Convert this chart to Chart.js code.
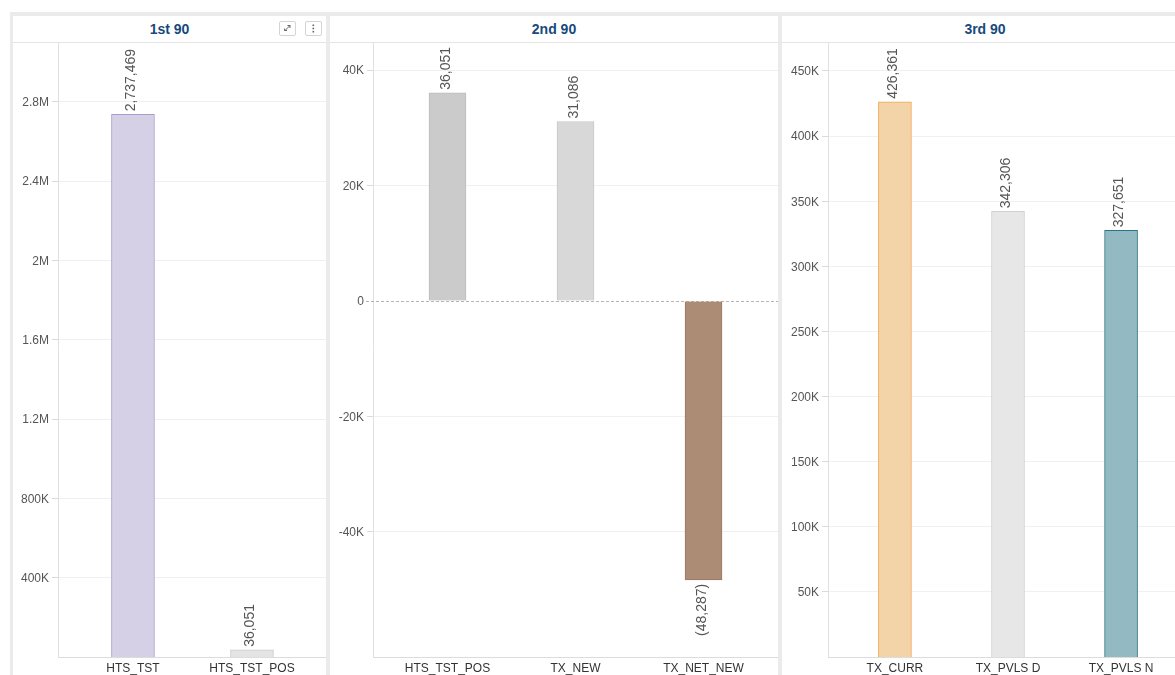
<!DOCTYPE html>
<html>
<head>
<meta charset="utf-8">
<title>90-90-90 indicators</title>
<script src="https://cdn.jsdelivr.net/npm/chart.js@4/dist/chart.umd.min.js"></script>
<style>
  html, body { margin: 0; padding: 0; background: #fff; width: 1175px; height: 675px; overflow: hidden;
               font-family: "Liberation Sans", Arial, sans-serif; }
  #board { position: absolute; left: 10px; top: 12px; width: 1200px; height: 700px; background: #ebebeb; }
  .panel { position: absolute; top: 4px; height: 700px; background: #fff; }
  .head { position: relative; height: 26px; border-bottom: 1px solid #e4e4e4; text-align: center;
          font-weight: bold; font-size: 14px; line-height: 26px; color: #174a7c; }
  .panel canvas { position: absolute; left: 0; top: 27px; }
  .btn { position: absolute; top: 5px; width: 15px; height: 13px; border: 1px solid #d4d4d4; border-radius: 2px;
         background: #fff; line-height: 0; }
  .btn svg { display: block; }
</style>
</head>
<body>
<div id="board">
  <div class="panel" style="left:3px;width:313px">
    <div class="head">1st 90
      <span class="btn" style="left:266px">
        <svg width="15" height="13" viewBox="0 0 15 13">
          <g stroke="#666" stroke-width="1" fill="none">
            <path d="M5 8.5 L10 3.5"/>
            <path d="M7.5 3.5 H10 V6"/>
            <path d="M4.5 6.5 V8.5 H7"/>
          </g>
        </svg>
      </span>
      <span class="btn" style="left:292px">
        <svg width="15" height="13" viewBox="0 0 15 13">
          <g fill="#666">
            <rect x="6.5" y="2.5" width="1.6" height="1.6"/>
            <rect x="6.5" y="5.7" width="1.6" height="1.6"/>
            <rect x="6.5" y="8.9" width="1.6" height="1.6"/>
          </g>
        </svg>
      </span>
    </div>
    <canvas id="c1" width="313" height="632"></canvas>
  </div>
  <div class="panel" style="left:320px;width:448px">
    <div class="head">2nd 90</div>
    <canvas id="c2" width="448" height="632"></canvas>
  </div>
  <div class="panel" style="left:772px;width:406px">
    <div class="head">3rd 90</div>
    <canvas id="c3" width="406" height="632"></canvas>
  </div>
</div>
<script>
// ---- 1st 90: testing ----
const cats1 = ['HTS_TST', 'HTS_TST_POS'];
const vals1 = [2737469, 36051];
const yTicks1 = [400000, 800000, 1200000, 1600000, 2000000, 2400000, 2800000];
const yLabels1 = ['400K', '800K', '1.2M', '1.6M', '2M', '2.4M', '2.8M'];

// ---- 2nd 90: new on treatment ----
const cats2 = ['HTS_TST_POS', 'TX_NEW', 'TX_NET_NEW'];
const vals2 = [36051, 31086, -48287];
const yTicks2 = [-40000, -20000, 0, 20000, 40000];
const yLabels2 = ['-40K', '-20K', '0', '20K', '40K'];

// ---- 3rd 90: viral load ----
const cats3 = ['TX_CURR', 'TX_PVLS D', 'TX_PVLS N'];
const vals3 = [426361, 342306, 327651];
const yTicks3 = [50000, 100000, 150000, 200000, 250000, 300000, 350000, 400000, 450000];
const yLabels3 = ['50K', '100K', '150K', '200K', '250K', '300K', '350K', '400K', '450K'];

// bar fills and outlines
const fill1 = ['#d5d0e6', '#e4e4e4'];
const line1 = ['#a99dd0', '#cccccc'];
const fill2 = ['#cbcbcb', '#d8d8d8', '#ad8c76'];
const line2 = ['#bcbcbc', '#c8c8c8', '#9a7761'];
const fill3 = ['#f3d3a8', '#e7e7e7', '#93b9c3'];
const line3 = ['#f0a64c', '#d0d0d0', '#2c7385'];

Chart.defaults.font.family = '"Liberation Sans", Arial, sans-serif';

function fmt(v) {
  const s = Math.abs(v).toLocaleString('en-US');
  return v < 0 ? '(' + s + ')' : s;
}

// rotated value labels at the end of each bar
const valueLabels = {
  id: 'valueLabels',
  afterDatasetsDraw(chart) {
    const ctx = chart.ctx;
    const pts = chart.data.datasets[0].data;
    ctx.save();
    ctx.font = '14px "Liberation Sans", Arial, sans-serif';
    ctx.fillStyle = '#555';
    ctx.textBaseline = 'middle';
    chart.getDatasetMeta(0).data.forEach((bar, i) => {
      const v = pts[i].y;
      ctx.save();
      ctx.translate(bar.x - 1.5, v >= 0 ? bar.y - 3 : bar.y + 4);
      ctx.rotate(-Math.PI / 2);
      ctx.textAlign = v >= 0 ? 'left' : 'right';
      ctx.fillText(fmt(v), 0, 0);
      ctx.restore();
    });
    ctx.restore();
  }
};

// dashed zero reference line when the axis spans negatives
const zeroLine = {
  id: 'zeroLine',
  beforeDatasetsDraw(chart) {
    const y = chart.scales.y;
    if (y.min >= 0) return;
    const a = chart.chartArea;
    const py = Math.round(y.getPixelForValue(0)) + 0.5;
    const ctx = chart.ctx;
    ctx.save();
    ctx.strokeStyle = '#b5b5b5';
    ctx.lineWidth = 1;
    ctx.setLineDash([3, 2]);
    ctx.beginPath();
    ctx.moveTo(a.left - 7, py);
    ctx.lineTo(a.right, py);
    ctx.stroke();
    ctx.restore();
  }
};

function makeChart(id, cats, vals, yTicks, yLabels, o) {
  return new Chart(document.getElementById(id), {
    type: 'bar',
    data: {
      datasets: [{
        data: vals.map((v, i) => ({ x: i, y: v })),
        backgroundColor: o.fill,
        borderColor: o.line,
        borderWidth: 1,
        barThickness: o.bar
      }]
    },
    options: {
      responsive: false,
      animation: false,
      layout: { padding: 0 },
      plugins: { legend: { display: false }, tooltip: { enabled: false } },
      scales: {
        x: {
          type: 'linear',
          offset: false,
          min: o.xMin, max: o.xMax,
          grid: { display: false, drawTicks: false, offset: false },
          border: { color: '#dcdcdc' },
          afterBuildTicks: s => { s.ticks = cats.map((c, i) => ({ value: i })); },
          ticks: { autoSkip: false, maxRotation: 0, padding: 4, color: '#333', font: { size: 12 },
                   callback: v => cats[v] },
          afterFit: s => { s.height = 18; s.paddingLeft = 0; s.paddingRight = 0; }
        },
        y: {
          min: o.yMin, max: o.yMax,
          afterBuildTicks: s => { s.ticks = yTicks.map(v => ({ value: v })); },
          ticks: { padding: 3, labelOffset: 1, color: '#555', font: { size: 12 },
                   callback: v => yLabels[yTicks.indexOf(v)] },
          grid: {
            color: c => (c.tick && c.tick.value === 0) ? 'rgba(0,0,0,0)' : '#f0f0f0',
            tickColor: c => (c.tick && c.tick.value === 0) ? 'rgba(0,0,0,0)' : '#dadada',
            tickLength: 6
          },
          border: { color: '#e0e0e0' },
          afterFit: s => { s.width = o.axisW; s.paddingTop = 0; s.paddingBottom = 0; }
        }
      }
    },
    plugins: [zeroLine, valueLabels]
  });
}

makeChart('c1', cats1, vals1, yTicks1, yLabels1,
  { fill: fill1, line: line1, bar: 43, xMin: -0.63, xMax: 1.622, yMin: 0, yMax: 3097000, axisW: 45 });
makeChart('c2', cats2, vals2, yTicks2, yLabels2,
  { fill: fill2, line: line2, bar: 37, xMin: -0.582, xMax: 2.582, yMin: -61650, yMax: 44680, axisW: 43 });
makeChart('c3', cats3, vals3, yTicks3, yLabels3,
  { fill: fill3, line: line3, bar: 33, xMin: -0.592, xMax: 2.592, yMin: 0, yMax: 471500, axisW: 46 });
</script>
</body>
</html>
